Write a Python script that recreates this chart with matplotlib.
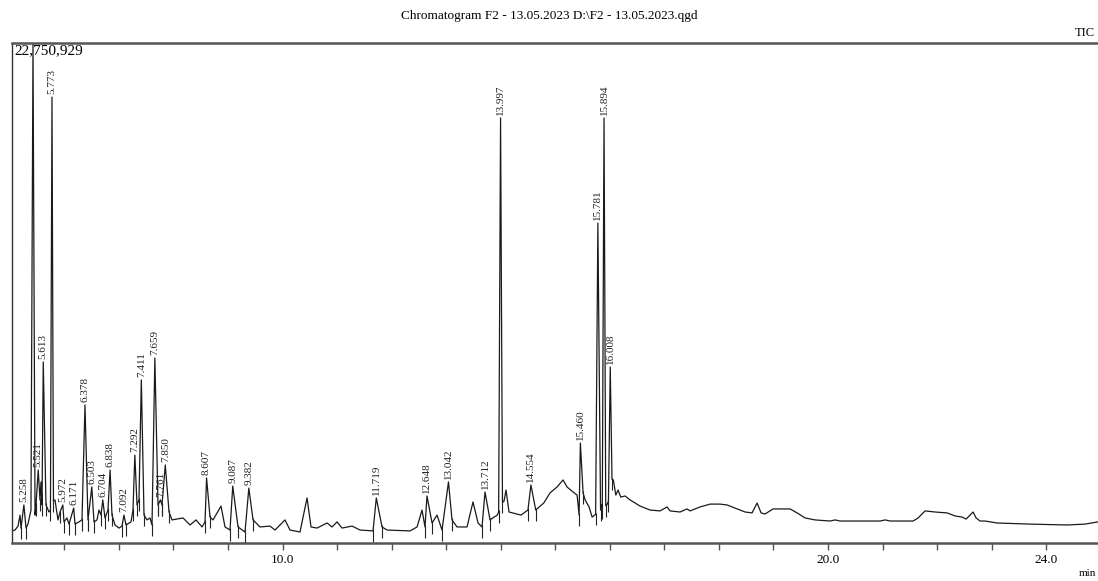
import matplotlib
matplotlib.use("Agg")
import matplotlib.pyplot as plt

plt.rcParams['font.family'] = 'serif'
plt.rcParams['font.serif'] = ['Liberation Serif', 'DejaVu Serif']

# TIC trace: retention time (min), intensity (millions of counts)
rt_min = [5.040, 5.095, 5.150, 5.187, 5.205, 5.258, 5.297, 5.333, 5.388, 5.425,
          5.462, 5.480, 5.521, 5.553, 5.572, 5.590, 5.613, 5.663, 5.718, 5.745, 5.773, 5.800,
          5.828, 5.883, 5.920, 5.972, 5.993, 6.048, 6.085, 6.171, 6.195, 6.268, 6.323, 6.378,
          6.433, 6.503, 6.543, 6.598, 6.635, 6.672, 6.704, 6.745, 6.800, 6.838, 6.873, 6.928,
          7.002, 7.057, 7.092, 7.130, 7.222, 7.258, 7.292, 7.332, 7.368, 7.411, 7.460, 7.515,
          7.570, 7.607, 7.659, 7.717, 7.761, 7.790, 7.850, 7.919, 7.974, 8.175, 8.304, 8.414,
          8.524, 8.579, 8.607, 8.670, 8.725, 8.872, 8.945, 9.037, 9.087, 9.184, 9.312, 9.382,
          9.459, 9.587, 9.770, 9.862, 10.045, 10.137, 10.320, 10.449, 10.522, 10.632, 10.816,
          10.907, 10.999, 11.091, 11.274, 11.421, 11.659, 11.719, 11.824, 11.916, 12.337, 12.466,
          12.557, 12.612, 12.648, 12.741, 12.832, 12.924, 13.042, 13.107, 13.199, 13.382, 13.492,
          13.584, 13.657, 13.712, 13.804, 13.877, 13.930, 13.962, 13.997, 14.032, 14.060, 14.097,
          14.152, 14.371, 14.499, 14.554, 14.642, 14.789, 14.904, 15.033, 15.143, 15.216, 15.326,
          15.400, 15.437, 15.460, 15.510, 15.547, 15.620, 15.675, 15.740, 15.781, 15.830, 15.848,
          15.862, 15.894, 15.925, 15.945, 15.975, 16.008, 16.040, 16.065, 16.110, 16.151, 16.200,
          16.280, 16.371, 16.555, 16.738, 16.921, 17.049, 17.104, 17.288, 17.416, 17.471, 17.654,
          17.838, 18.021, 18.150, 18.296, 18.480, 18.608, 18.700, 18.773, 18.846, 18.993, 19.305,
          19.433, 19.580, 19.763, 20.038, 20.130, 20.221, 20.955, 21.047, 21.138, 21.560, 21.652,
          21.780, 21.963, 22.183, 22.330, 22.458, 22.532, 22.605, 22.660, 22.715, 22.788, 22.880,
          23.100, 23.705, 24.383, 24.713, 24.952]
tic_mcounts = [0.55, 0.59, 0.77, 1.27, 0.68, 1.73, 0.68, 0.86, 1.50, 22.75,
               1.27, 1.73, 3.32, 1.96, 2.78, 1.73, 8.24, 1.73, 1.41, 1.50, 20.29, 1.90,
               1.96, 1.05, 1.41, 1.73, 0.96, 1.14, 0.86, 1.59, 0.86, 0.96, 1.05, 6.28,
               1.05, 2.55, 0.96, 1.05, 1.50, 1.27, 1.96, 1.14, 1.50, 3.32, 1.27, 0.82,
               0.68, 0.77, 1.27, 0.82, 0.96, 1.50, 4.00, 1.73, 1.96, 7.42, 1.27, 1.05,
               1.14, 0.82, 8.42, 1.73, 1.96, 1.73, 3.55, 1.41, 1.05, 1.14, 0.82, 1.05,
               0.73, 0.96, 2.96, 1.18, 1.05, 1.68, 0.73, 0.59, 2.59, 0.73, 0.50, 2.50,
               1.05, 0.73, 0.77, 0.59, 1.05, 0.59, 0.50, 2.05, 0.73, 0.68, 0.91,
               0.73, 0.96, 0.68, 0.77, 0.59, 0.55, 2.05, 0.73, 0.59, 0.55, 0.73,
               1.50, 0.73, 2.14, 0.91, 1.27, 0.59, 2.78, 1.05, 0.73, 0.73, 1.87,
               0.91, 0.73, 2.32, 1.05, 1.18, 1.25, 1.40, 19.34, 1.85, 1.90, 2.41,
               1.41, 1.27, 1.50, 2.64, 1.50, 1.82, 2.28, 2.55, 2.87, 2.55, 2.32,
               2.18, 1.27, 4.55, 2.28, 1.96, 1.64, 1.18, 1.30, 14.56, 1.50, 1.73,
               1.60, 19.34, 1.70, 1.73, 1.90, 8.01, 2.90, 2.87, 2.18, 2.41, 2.09,
               2.14, 1.96, 1.68, 1.50, 1.46, 1.64, 1.46, 1.41, 1.55, 1.46, 1.64,
               1.77, 1.77, 1.73, 1.59, 1.41, 1.37, 1.82, 1.37, 1.32, 1.55, 1.55,
               1.37, 1.14, 1.05, 1.00, 1.05, 1.00, 1.00, 1.05, 1.00, 1.00, 1.14,
               1.46, 1.41, 1.37, 1.23, 1.18, 1.09, 1.27, 1.41, 1.14, 1.00, 1.00,
               0.91, 0.86, 0.82, 0.86, 0.96]

# labelled peaks (retention times printed on the chart)
peak_rt = [5.258, 5.521, 5.613, 5.773, 5.972, 6.171, 6.378, 6.503, 6.704, 6.838, 7.092,
           7.292, 7.411, 7.659, 7.761, 7.850, 8.607, 9.087, 9.382, 11.719, 12.648, 13.042,
           13.712, 13.997, 14.554, 15.460, 15.781, 15.894, 16.008]

max_intensity = 22750929
title = "Chromatogram F2 - 13.05.2023 D:\\F2 - 13.05.2023.qgd"

fig = plt.figure(figsize=(10.98, 5.81), dpi=100)
ax = fig.add_axes([12 / 1098, 38 / 581, 1 - 12 / 1098, 500 / 581])

ax.plot(rt_min, tic_mcounts, color='#1a1a1a', lw=0.9)

# peak labels and integration marks
for rt in peak_rt:
    i = rt_min.index(rt)
    ax.annotate(f"{rt:.3f}", (rt, tic_mcounts[i]), xytext=(0, 2), textcoords='offset points',
                rotation=90, ha='center', va='bottom', fontsize=8, color='#222222')
    for j in (i - 1, i + 1):
        ax.vlines(rt_min[j], tic_mcounts[j] - 0.5, tic_mcounts[j] + 0.08, color='#222222', lw=0.8)

ax.set_xlim(5.04, 24.95)
ax.set_ylim(0, max_intensity / 1e6)

ticks = list(range(6, 25))
ax.set_xticks(ticks)
ax.set_xticklabels([f"{t:.1f}" if t in (10, 20, 24) else "" for t in ticks], fontsize=9.5)
ax.tick_params(axis='x', direction='out', length=5, width=1, color='#555555', pad=3)
ax.set_yticks([])

ax.spines['right'].set_visible(False)
ax.spines['top'].set_color('#555555')
ax.spines['top'].set_linewidth(1.8)
ax.spines['bottom'].set_color('#555555')
ax.spines['bottom'].set_linewidth(1.8)
ax.spines['left'].set_color('#333333')
ax.spines['left'].set_linewidth(1.0)

ax.text(0.002, 0.997, f"{max_intensity:,}", transform=ax.transAxes, ha='left', va='top', fontsize=11)

fig.text(0.5, 1 - 16 / 581, title, ha='center', va='center', fontsize=9.5)
fig.text(1075 / 1098, 1 - 33 / 581, "TIC", ha='left', va='center', fontsize=9)
fig.text(1096 / 1098, 1 - 574 / 581, "min", ha='right', va='center', fontsize=8)

fig.savefig("out.png", dpi=100)
